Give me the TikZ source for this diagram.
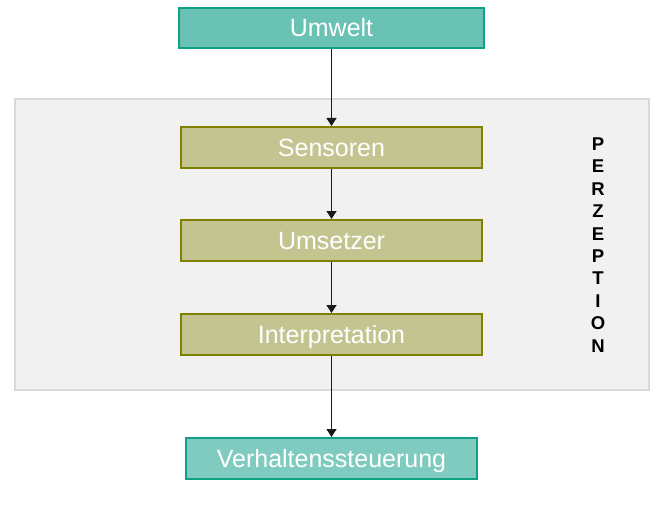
\documentclass[tikz,border=0pt]{standalone}
\usepackage{fontspec}
\setmainfont{Liberation Sans}
\usetikzlibrary{arrows.meta}
\definecolor{tealfill}{HTML}{69C2B4}
\definecolor{tealfillb}{HTML}{7FCBBF}
\definecolor{tealline}{HTML}{12A085}
\definecolor{olivefill}{HTML}{C3C490}
\definecolor{oliveline}{HTML}{808000}
\definecolor{contfill}{HTML}{F1F1F1}
\definecolor{contline}{HTML}{D9D9D9}
\tikzset{
  box/.style={draw, line width=2pt, inner sep=0pt, text=white,
    font=\fontsize{25}{30}\selectfont, text height=18pt, text depth=0pt},
  tealbox/.style={box, fill=tealfill, draw=tealline},
  tealboxb/.style={box, fill=tealfillb, draw=tealline},
  olivebox/.style={box, fill=olivefill, draw=oliveline,
    minimum width=301pt, minimum height=41pt},
  arr/.style={draw=black!90, line width=1.3pt, -{Triangle[length=8pt,width=10pt]}},
}
\begin{document}
\begin{tikzpicture}[x=1pt,y=-1pt]
\useasboundingbox (0,0) rectangle (658,505);
\draw[fill=contfill, draw=contline, line width=2pt] (15,99) rectangle (649,390);
\node[tealbox, minimum width=305pt, minimum height=40pt] (umwelt) at (331.5,28) {Umwelt};
\node[olivebox] (sensoren) at (331.5,147.5) {Sensoren};
\node[olivebox] (umsetzer) at (331.5,240.5) {Umsetzer};
\node[olivebox] (interp) at (331.5,334.5) {Interpretation};
\node[tealboxb, minimum width=291pt, minimum height=41pt] (verh) at (331.5,458.5) {Verhaltenssteuerung};
\node[align=center, inner sep=0pt, font=\bfseries\fontsize{18.5}{22.4}\selectfont] (perz) at (598,245)
  {P\\E\\R\\Z\\E\\P\\T\\I\\O\\N};
\draw[arr] (umwelt) -- (sensoren);
\draw[arr] (sensoren) -- (umsetzer);
\draw[arr] (umsetzer) -- (interp);
\draw[arr] (interp) -- (verh);
\end{tikzpicture}
\end{document}
